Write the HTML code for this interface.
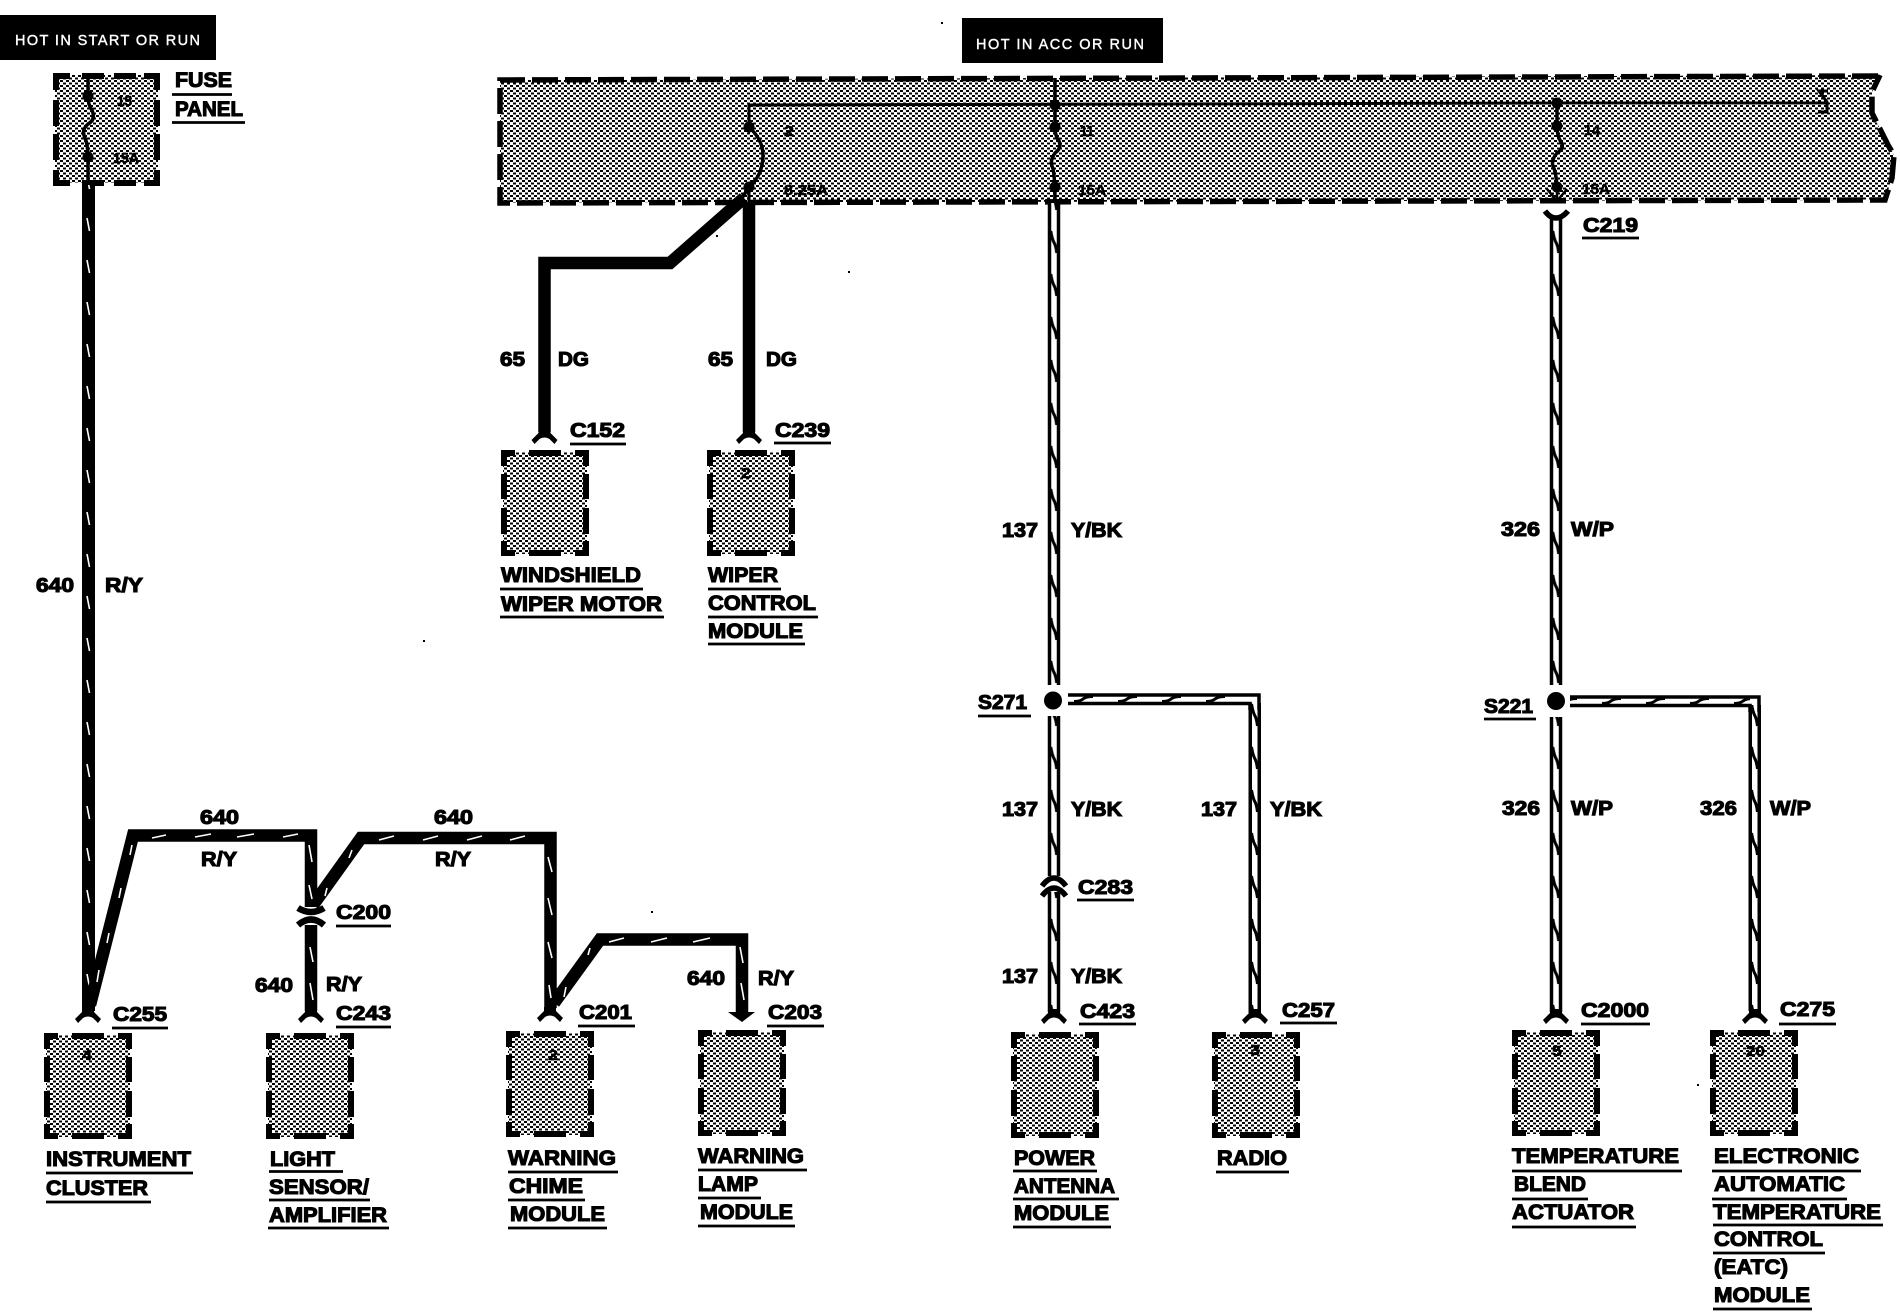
<!DOCTYPE html>
<html><head><meta charset="utf-8"><title>Wiring diagram</title>
<style>
html,body{margin:0;padding:0;background:#fff}
svg{display:block}
text{font-family:"Liberation Sans",sans-serif;font-weight:bold;fill:#000;stroke:#000;stroke-width:1.1}
.s{font-size:15px;stroke-width:.5}
.m{font-size:20px}
.l{font-size:21px}
.w{font-size:14.5px;font-weight:normal;fill:#fff;stroke:#fff;stroke-width:.4}
</style></head><body>
<svg xmlns="http://www.w3.org/2000/svg" width="1900" height="1312" viewBox="0 0 1900 1312">
<defs>
<pattern id="c" width="6" height="5" patternUnits="userSpaceOnUse"><rect width="6" height="5" fill="#fff"/><rect width="3" height="2"/><rect x="3" y="2.5" width="3" height="2"/></pattern>
<pattern id="vt" width="13" height="42" patternUnits="userSpaceOnUse"><rect width="13" height="42"/><path d="M5,8 L7.5,21" stroke="#fff" stroke-width="1.6"/></pattern>
<pattern id="dw" width="12.5" height="43" patternUnits="userSpaceOnUse"><rect width="12.5" height="43" fill="#fff"/><rect width="3.5" height="43"/><rect x="9" width="3.5" height="43"/><path d="M3,16 L4,21 Q5,25 6,27 Q8,30 9,38" fill="none" stroke="#000" stroke-width="3"/></pattern>
<pattern id="dh" width="44" height="12" patternUnits="userSpaceOnUse"><rect width="44" height="12" fill="#fff"/><path d="M18,8.5 Q24,8.5 27,6 Q30,3.5 37,3.5" fill="none" stroke="#000" stroke-width="3"/></pattern>
<g id="b"><rect x="2" y="2" width="84" height="102" fill="url(#c)"/><path d="M3,16 V3 H14 M28,3 H60 M74,3 H85 V16 M3,24 V49 M85,24 V49 M3,58 V84 M85,58 V84 M3,91 V103 H14 M28,103 H60 M74,103 H85 V91" fill="none" stroke="#000" stroke-width="6"/></g>
<path id="f" d="M-6,-3 H6 V1 L13,8 L10,12 L5,7 Q0,4 -5,7 L-10,12 L-13,8 L-6,1Z"/>
</defs>
<rect width="1900" height="1312" fill="#fff"/>

<!-- hot boxes -->
<rect x="0" y="15" width="216" height="45"/>
<text class="w" x="15" y="45" textLength="185" lengthAdjust="spacing">HOT IN START OR RUN</text>
<rect x="962" y="18" width="201" height="45"/>
<text class="w" x="976" y="49" textLength="168" lengthAdjust="spacing">HOT IN ACC OR RUN</text>

<!-- fuse panel -->
<rect x="55" y="75" width="103" height="108" fill="url(#c)"/>
<path d="M56,90 V76 H70 M82,76 H104 M114,76 H136 M144,76 H157 V90 M56,100 V126 M157,100 V126 M56,134 V160 M157,134 V160 M56,170 V183 H70 M82,183 H104 M114,183 H136 M144,183 H157 V170" fill="none" stroke="#000" stroke-width="6"/>
<path d="M88,73 V96 Q88,105 92,110 Q96,120 88,124 Q81,130 85,138 Q88,145 88,157 V185" fill="none" stroke="#000" stroke-width="3.5"/>
<circle cx="88" cy="96" r="5.5"/><circle cx="88" cy="157" r="5.5"/>
<text class="s" x="117" y="106" textLength="15" lengthAdjust="spacingAndGlyphs">15</text>
<text class="s" x="113" y="163" textLength="26" lengthAdjust="spacingAndGlyphs">15A</text>

<!-- main panel -->
<path d="M500,80 L1880,75 L1872,92 L1872,113 L1888,145 L1894,155 L1892,178 L1885,200 L500,203Z" fill="url(#c)"/>
<path d="M1878,76 L500,80 L500,203 L1885,200 L1892,178 L1894,155 L1888,145 L1872,113 L1872,92 L1880,75" fill="none" stroke="#000" stroke-width="5.5" stroke-dasharray="26 7"/>
<path d="M749,127 V105 L1557,103 L1826,103 M1828,91 H1819 L1827,102 V112 H1818" fill="none" stroke="#000" stroke-width="3"/>
<path d="M749,127 Q763,140 763,155 Q763,175 749,187 L742,198" fill="none" stroke="#000" stroke-width="3.5"/>
<path d="M749,187 V203" fill="none" stroke="#000" stroke-width="3"/>
<circle cx="749" cy="127" r="5.5"/><circle cx="749" cy="187" r="5.5"/>
<path d="M1055,78 V127 Q1055,136 1059,141 Q1062,148 1055,153 Q1050,160 1052,166 Q1055,172 1055,203" fill="none" stroke="#000" stroke-width="3.5"/>
<circle cx="1055" cy="105" r="5.5"/><circle cx="1055" cy="127" r="5.5"/><circle cx="1055" cy="187" r="5.5"/>
<path d="M1557,103 V126 Q1557,136 1561,142 Q1565,148 1557,153 Q1551,160 1553,166 Q1556,172 1557,187" fill="none" stroke="#000" stroke-width="3.5"/>
<circle cx="1557" cy="103" r="5.5"/><circle cx="1557" cy="126" r="5.5"/><circle cx="1557" cy="187" r="5.5"/>
<path d="M1547,189 L1557,201 L1567,189 M1557,187 V203" fill="none" stroke="#000" stroke-width="2.5"/>
<text class="s" x="784" y="136" textLength="10" lengthAdjust="spacingAndGlyphs">2</text>
<text class="s" x="784" y="195" textLength="44" lengthAdjust="spacingAndGlyphs">8.25A</text>
<text class="s" x="1080" y="136" textLength="14" lengthAdjust="spacingAndGlyphs">11</text>
<text class="s" x="1078" y="195" textLength="28" lengthAdjust="spacingAndGlyphs">15A</text>
<text class="s" x="1584" y="135" textLength="16" lengthAdjust="spacingAndGlyphs">14</text>
<text class="s" x="1582" y="194" textLength="28" lengthAdjust="spacingAndGlyphs">15A</text>

<!-- DG wires -->
<path d="M749,203 V432 M744,198 L670,263 H544.5 V432" fill="none" stroke="#000" stroke-width="12.5" stroke-linejoin="miter"/>
<use href="#f" x="544.5" y="432"/><use href="#f" x="749" y="432"/>

<!-- R/Y thick wires -->
<rect transform="translate(82,0)" y="185" width="13" height="826" fill="url(#vt)"/>
<path d="M90,1005 L133,835.5 H311 V907 M311,925 V1011 M313,905 L361,838 H550.5 V1008 M554,1003 L600,939.5 H742 V1015" fill="none" stroke="#000" stroke-width="12.5" stroke-linejoin="miter"/>
<path d="M152,838 L166,835 M195,837 L211,834 M237,837 L254,834 M283,837 L298,834 M379,840 L394,836 M423,840 L438,836 M467,840 L482,836 M510,840 L525,836 M609,942 L624,938 M651,942 L667,938 M693,942 L710,938 M309,845 L312,862 M309,885 L312,899 M310,947 L313,962 M310,983 L313,1000 M548,857 L552,872 M548,898 L552,915 M548,942 L552,958 M549,985 L551,998 M740,947 L743,963 M741,983 L744,1000 M132,845 L130,855 M121,888 L119,898 M109,933 L107,943 M99,970 L97,982 M352,850 L349,858 M327,888 L325,896 M590,948 L588,955 M566,987 L564,997" fill="none" stroke="#fff" stroke-width="1.6"/>
<use href="#f" x="88" y="1011"/><use href="#f" x="311" y="1011"/><use href="#f" x="550" y="1010"/>
<path d="M736,1012 H748 V1012 H755 L742,1022 L728,1012Z"/>
<path d="M298,908 Q311,916 324,908 M298,925 Q311,914 324,925" fill="none" stroke="#000" stroke-width="6.5"/>

<!-- Y/BK wires -->
<rect transform="translate(1047.75,0)" y="203" width="12.5" height="482" fill="url(#dw)"/>
<rect transform="translate(1047.75,0)" y="716" width="12.5" height="160" fill="url(#dw)"/>
<rect transform="translate(1047.75,0)" y="892" width="12.5" height="120" fill="url(#dw)"/>
<circle cx="1053" cy="700.5" r="9"/>
<rect transform="translate(0,693)" x="1068" width="182" height="12" fill="url(#dh)"/>
<rect transform="translate(1248.5,0)" y="703" width="12.5" height="310" fill="url(#dw)"/>
<path d="M1068,695 H1259 V710 M1068,703.5 H1250 V710" fill="none" stroke="#000" stroke-width="3.5"/>
<path d="M1042,886 Q1054,870 1066,886 M1042,896 Q1054,880 1066,896" fill="none" stroke="#000" stroke-width="5.5"/>
<use href="#f" x="1054" y="1012"/><use href="#f" x="1255" y="1012"/>

<!-- W/P wires -->
<rect transform="translate(1549.75,0)" y="218" width="12.5" height="467" fill="url(#dw)"/>
<rect transform="translate(1549.75,0)" y="717" width="12.5" height="295" fill="url(#dw)"/>
<circle cx="1556" cy="701" r="9"/>
<rect transform="translate(0,695)" x="1570" width="180" height="12" fill="url(#dh)"/>
<rect transform="translate(1748.5,0)" y="705" width="12.5" height="306" fill="url(#dw)"/>
<path d="M1570,697 H1759 V712 M1570,705.5 H1750 V712" fill="none" stroke="#000" stroke-width="3.5"/>
<path d="M1545,211 Q1550,218 1556,218 Q1562,218 1568,211" fill="none" stroke="#000" stroke-width="5.5"/>
<use href="#f" x="1556" y="1012"/><use href="#f" x="1755" y="1012"/>

<!-- component boxes -->
<use href="#b" x="501" y="450"/><use href="#b" x="707" y="450"/>
<use href="#b" x="44" y="1033"/><use href="#b" x="266" y="1033"/>
<use href="#b" x="506" y="1031"/><use href="#b" x="698" y="1030"/>
<use href="#b" x="1011" y="1032"/><use href="#b" x="1212" y="1032"/>
<use href="#b" x="1512" y="1030"/><use href="#b" x="1710" y="1030"/>
<text class="s" x="82" y="1060" textLength="10" lengthAdjust="spacingAndGlyphs">4</text>
<text class="s" x="741" y="478" textLength="10" lengthAdjust="spacingAndGlyphs">2</text>
<text class="s" x="548" y="1060" textLength="10" lengthAdjust="spacingAndGlyphs">2</text>
<text class="s" x="1250" y="1055" textLength="10" lengthAdjust="spacingAndGlyphs">3</text>
<text class="s" x="1552" y="1056" textLength="10" lengthAdjust="spacingAndGlyphs">5</text>
<text class="s" x="1746" y="1056" textLength="19" lengthAdjust="spacingAndGlyphs">20</text>

<!-- underlines -->
<path d="M172,94.5 H232 M172,122.5 H245 M112,1028 H168 M336,926 H391 M336,1027 H391 M46,1173 H193 M46,1202 H151 M269,1171.5 H343 M269,1200 H370 M268,1228 H389 M578,1026 H635 M767,1026 H824 M508,1172 H618 M508,1200 H585 M508,1228 H607 M698,1170 H807 M698,1198 H761 M698,1226 H795 M570,444 H626 M774,443 H831 M500,589 H643 M500,617 H664 M708,589 H781 M708,617 H818 M708,644 H805 M1582,238 H1639 M1484,719 H1536 M978,716 H1031 M1077,900 H1134 M1079,1024 H1136 M1280,1023 H1337 M1581,1024 H1650 M1779,1024 H1836 M1512,1171 H1682 M1512,1199 H1588 M1512,1227 H1636 M1712,1171 H1861 M1712,1199 H1847 M1713,1225 H1883 M1713,1253 H1825 M1713,1309 H1812 M1013,1171 H1097 M1013,1199 H1119 M1013,1227 H1111 M1216,1172 H1289" fill="none" stroke="#000" stroke-width="2.8"/>

<!-- labels -->
<g class="m">
<text class="l" x="175" y="87" textLength="57" lengthAdjust="spacingAndGlyphs">FUSE</text>
<text class="l" x="175" y="116" textLength="68" lengthAdjust="spacingAndGlyphs">PANEL</text>
<text class="m" x="36" y="592" textLength="38" lengthAdjust="spacingAndGlyphs">640</text>
<text class="m" x="105" y="592" textLength="38" lengthAdjust="spacingAndGlyphs">R/Y</text>
<text class="m" x="200" y="824" textLength="39" lengthAdjust="spacingAndGlyphs">640</text>
<text class="m" x="201" y="866" textLength="36" lengthAdjust="spacingAndGlyphs">R/Y</text>
<text class="m" x="434" y="824" textLength="39" lengthAdjust="spacingAndGlyphs">640</text>
<text class="m" x="435" y="866" textLength="36" lengthAdjust="spacingAndGlyphs">R/Y</text>
<text class="m" x="255" y="992" textLength="38" lengthAdjust="spacingAndGlyphs">640</text>
<text class="m" x="326" y="991" textLength="36" lengthAdjust="spacingAndGlyphs">R/Y</text>
<text class="m" x="687" y="985" textLength="38" lengthAdjust="spacingAndGlyphs">640</text>
<text class="m" x="758" y="985" textLength="36" lengthAdjust="spacingAndGlyphs">R/Y</text>
<text class="m" x="113" y="1021" textLength="54" lengthAdjust="spacingAndGlyphs">C255</text>
<text class="m" x="336" y="919" textLength="55" lengthAdjust="spacingAndGlyphs">C200</text>
<text class="m" x="336" y="1020" textLength="55" lengthAdjust="spacingAndGlyphs">C243</text>
<text class="m" x="579" y="1019" textLength="53" lengthAdjust="spacingAndGlyphs">C201</text>
<text class="m" x="768" y="1019" textLength="54" lengthAdjust="spacingAndGlyphs">C203</text>
<text class="l" x="46" y="1166" textLength="145" lengthAdjust="spacingAndGlyphs">INSTRUMENT</text>
<text class="l" x="46" y="1195" textLength="102" lengthAdjust="spacingAndGlyphs">CLUSTER</text>
<text class="l" x="270" y="1166" textLength="65" lengthAdjust="spacingAndGlyphs">LIGHT</text>
<text class="l" x="269" y="1194" textLength="100" lengthAdjust="spacingAndGlyphs">SENSOR/</text>
<text class="l" x="269" y="1222" textLength="118" lengthAdjust="spacingAndGlyphs">AMPLIFIER</text>
<text class="l" x="508" y="1165" textLength="108" lengthAdjust="spacingAndGlyphs">WARNING</text>
<text class="l" x="509" y="1193" textLength="74" lengthAdjust="spacingAndGlyphs">CHIME</text>
<text class="l" x="510" y="1221" textLength="95" lengthAdjust="spacingAndGlyphs">MODULE</text>
<text class="l" x="698" y="1163" textLength="106" lengthAdjust="spacingAndGlyphs">WARNING</text>
<text class="l" x="698" y="1191" textLength="60" lengthAdjust="spacingAndGlyphs">LAMP</text>
<text class="l" x="700" y="1219" textLength="93" lengthAdjust="spacingAndGlyphs">MODULE</text>

<text class="m" x="500" y="366" textLength="25" lengthAdjust="spacingAndGlyphs">65</text>
<text class="m" x="558" y="366" textLength="31" lengthAdjust="spacingAndGlyphs">DG</text>
<text class="m" x="708" y="366" textLength="25" lengthAdjust="spacingAndGlyphs">65</text>
<text class="m" x="766" y="366" textLength="31" lengthAdjust="spacingAndGlyphs">DG</text>
<text class="m" x="570" y="437" textLength="55" lengthAdjust="spacingAndGlyphs">C152</text>
<text class="m" x="775" y="437" textLength="55" lengthAdjust="spacingAndGlyphs">C239</text>
<text class="l" x="501" y="582" textLength="140" lengthAdjust="spacingAndGlyphs">WINDSHIELD</text>
<text class="l" x="501" y="611" textLength="161" lengthAdjust="spacingAndGlyphs">WIPER MOTOR</text>
<text class="l" x="708" y="582" textLength="70" lengthAdjust="spacingAndGlyphs">WIPER</text>
<text class="l" x="708" y="610" textLength="108" lengthAdjust="spacingAndGlyphs">CONTROL</text>
<text class="l" x="708" y="638" textLength="95" lengthAdjust="spacingAndGlyphs">MODULE</text>

<text class="m" x="1002" y="537" textLength="36" lengthAdjust="spacingAndGlyphs">137</text>
<text class="m" x="1071" y="537" textLength="51" lengthAdjust="spacingAndGlyphs">Y/BK</text>
<text class="m" x="978" y="709" textLength="49" lengthAdjust="spacingAndGlyphs">S271</text>
<text class="m" x="1002" y="816" textLength="36" lengthAdjust="spacingAndGlyphs">137</text>
<text class="m" x="1071" y="816" textLength="51" lengthAdjust="spacingAndGlyphs">Y/BK</text>
<text class="m" x="1201" y="816" textLength="36" lengthAdjust="spacingAndGlyphs">137</text>
<text class="m" x="1270" y="816" textLength="52" lengthAdjust="spacingAndGlyphs">Y/BK</text>
<text class="m" x="1078" y="894" textLength="55" lengthAdjust="spacingAndGlyphs">C283</text>
<text class="m" x="1002" y="983" textLength="36" lengthAdjust="spacingAndGlyphs">137</text>
<text class="m" x="1071" y="983" textLength="51" lengthAdjust="spacingAndGlyphs">Y/BK</text>
<text class="m" x="1080" y="1018" textLength="55" lengthAdjust="spacingAndGlyphs">C423</text>
<text class="m" x="1282" y="1017" textLength="53" lengthAdjust="spacingAndGlyphs">C257</text>
<text class="l" x="1014" y="1165" textLength="81" lengthAdjust="spacingAndGlyphs">POWER</text>
<text class="l" x="1014" y="1193" textLength="101" lengthAdjust="spacingAndGlyphs">ANTENNA</text>
<text class="l" x="1014" y="1220" textLength="95" lengthAdjust="spacingAndGlyphs">MODULE</text>
<text class="l" x="1217" y="1165" textLength="70" lengthAdjust="spacingAndGlyphs">RADIO</text>

<text class="m" x="1583" y="232" textLength="55" lengthAdjust="spacingAndGlyphs">C219</text>
<text class="m" x="1501" y="536" textLength="39" lengthAdjust="spacingAndGlyphs">326</text>
<text class="m" x="1571" y="536" textLength="43" lengthAdjust="spacingAndGlyphs">W/P</text>
<text class="m" x="1484" y="713" textLength="49" lengthAdjust="spacingAndGlyphs">S221</text>
<text class="m" x="1502" y="815" textLength="38" lengthAdjust="spacingAndGlyphs">326</text>
<text class="m" x="1571" y="815" textLength="42" lengthAdjust="spacingAndGlyphs">W/P</text>
<text class="m" x="1700" y="815" textLength="37" lengthAdjust="spacingAndGlyphs">326</text>
<text class="m" x="1770" y="815" textLength="41" lengthAdjust="spacingAndGlyphs">W/P</text>
<text class="m" x="1581" y="1017" textLength="68" lengthAdjust="spacingAndGlyphs">C2000</text>
<text class="m" x="1780" y="1016" textLength="55" lengthAdjust="spacingAndGlyphs">C275</text>
<text class="l" x="1512" y="1163" textLength="167" lengthAdjust="spacingAndGlyphs">TEMPERATURE</text>
<text class="l" x="1514" y="1191" textLength="72" lengthAdjust="spacingAndGlyphs">BLEND</text>
<text class="l" x="1512" y="1219" textLength="122" lengthAdjust="spacingAndGlyphs">ACTUATOR</text>
<text class="l" x="1714" y="1163" textLength="145" lengthAdjust="spacingAndGlyphs">ELECTRONIC</text>
<text class="l" x="1714" y="1191" textLength="131" lengthAdjust="spacingAndGlyphs">AUTOMATIC</text>
<text class="l" x="1713" y="1219" textLength="168" lengthAdjust="spacingAndGlyphs">TEMPERATURE</text>
<text class="l" x="1714" y="1246" textLength="109" lengthAdjust="spacingAndGlyphs">CONTROL</text>
<text class="l" x="1714" y="1274" textLength="74" lengthAdjust="spacingAndGlyphs">(EATC)</text>
<text class="l" x="1714" y="1302" textLength="96" lengthAdjust="spacingAndGlyphs">MODULE</text>
</g>

<!-- specks -->
<path d="M941,22h2v2h-2z M716,235h2v2h-2z M848,271h2v2h-2z M423,640h2v2h-2z M651,911h2v2h-2z M1697,1084h2v2h-2z"/>
</svg>
</body></html>
